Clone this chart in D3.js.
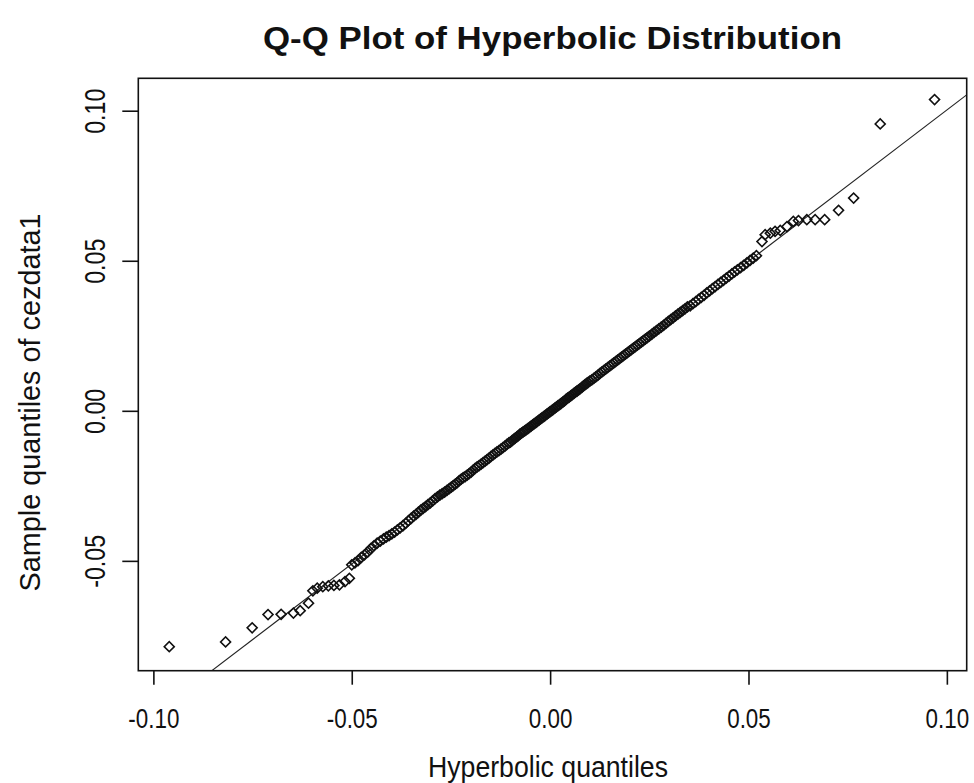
<!DOCTYPE html>
<html>
<head>
<meta charset="utf-8">
<script src="https://cdnjs.cloudflare.com/ajax/libs/d3/7.8.5/d3.min.js"></script>
<style>
  body { margin: 0; background: #fff; }
  svg { display: block; }
  text { fill: #111; }
</style>
</head>
<body>
<div id="chart"></div>
<script>
// Theoretical (hyperbolic) quantiles
const hypQuantiles = [
  -0.0960, -0.0818, -0.0751, -0.0711, -0.0678, -0.0647, -0.0630, -0.0609,
  -0.0598, -0.0587, -0.0573, -0.0559, -0.0545, -0.0531, -0.0517, -0.0506,
  -0.0500, -0.0492, -0.0484, -0.0476, -0.0468, -0.0460, -0.0452, -0.0444,
  -0.0436, -0.0428, -0.0420, -0.0413, -0.0406, -0.0399, -0.0392, -0.0385,
  -0.0378, -0.0371, -0.0364, -0.0357, -0.0350,
  -0.0344, -0.0338, -0.0332, -0.0326, -0.0320, -0.0314, -0.0308, -0.0302,
  -0.0296, -0.0290, -0.0284, -0.0278, -0.0272, -0.0266, -0.0260, -0.0254,
  -0.0249, -0.0244, -0.0239, -0.0234, -0.0229, -0.0224, -0.0219, -0.0214,
  -0.0209, -0.0204, -0.0199, -0.0194, -0.0189, -0.0184, -0.0179, -0.0174,
  -0.0169, -0.0164, -0.0159, -0.0154, -0.0149, -0.0144, -0.0139, -0.0134,
  -0.0129, -0.0124, -0.0119, -0.0114, -0.0109, -0.0104,
  -0.0100, -0.0096, -0.0092, -0.0088, -0.0084, -0.0080, -0.0076, -0.0072,
  -0.0068, -0.0064, -0.0060, -0.0056, -0.0052, -0.0048, -0.0044, -0.0040,
  -0.0036, -0.0032, -0.0028, -0.0024, -0.0020, -0.0016, -0.0012, -0.0008,
  -0.0004, 0.0000, 0.0004, 0.0008, 0.0012, 0.0016, 0.0020, 0.0024,
  0.0028, 0.0032, 0.0036, 0.0040, 0.0044, 0.0048, 0.0052, 0.0056,
  0.0060, 0.0064, 0.0068, 0.0072, 0.0076, 0.0080, 0.0084, 0.0088,
  0.0092, 0.0096, 0.0100,
  0.0105, 0.0110, 0.0115, 0.0120, 0.0125, 0.0130, 0.0135, 0.0140,
  0.0145, 0.0150, 0.0155, 0.0160, 0.0165, 0.0170, 0.0175, 0.0180,
  0.0185, 0.0190, 0.0195, 0.0200, 0.0205, 0.0210, 0.0215, 0.0220,
  0.0225, 0.0230, 0.0235, 0.0240, 0.0245, 0.0250,
  0.0256, 0.0262, 0.0268, 0.0274, 0.0280, 0.0286, 0.0292, 0.0298,
  0.0304, 0.0310, 0.0316, 0.0322, 0.0328, 0.0334, 0.0340, 0.0346,
  0.0353, 0.0360, 0.0367, 0.0374, 0.0381, 0.0388, 0.0395, 0.0402,
  0.0409, 0.0416, 0.0423, 0.0430, 0.0437, 0.0444, 0.0451, 0.0458,
  0.0465, 0.0472, 0.0480, 0.0488, 0.0496, 0.0504, 0.0512, 0.0520,
  0.0534, 0.0542, 0.0555, 0.0567, 0.0580, 0.0597, 0.0613, 0.0626,
  0.0647, 0.0668, 0.0692, 0.0727, 0.0765, 0.0832, 0.0969
];

// Sample quantiles of cezdata1, same order
const sampleQuantiles = [
  -0.0786, -0.0770, -0.0723, -0.0679, -0.0678, -0.0674, -0.0666, -0.0641,
  -0.0600, -0.0591, -0.0586, -0.0583, -0.0582, -0.0580, -0.0569, -0.0558,
  -0.0513, -0.0507, -0.0499, -0.0488, -0.0480, -0.0471, -0.0459, -0.0450,
  -0.0441, -0.0434, -0.0427, -0.0421, -0.0416, -0.0410, -0.0404, -0.0397,
  -0.0390, -0.0383, -0.0375, -0.0366, -0.0358,
  -0.0351, -0.0345, -0.0338, -0.0331, -0.0325, -0.0319, -0.0313, -0.0307,
  -0.0300, -0.0293, -0.0287, -0.0281, -0.0276, -0.0271, -0.0265, -0.0259,
  -0.0254, -0.0249, -0.0244, -0.0239, -0.0233, -0.0228, -0.0223, -0.0219,
  -0.0214, -0.0209, -0.0204, -0.0198, -0.0192, -0.0187, -0.0183, -0.0178,
  -0.0173, -0.0168, -0.0163, -0.0158, -0.0152, -0.0147, -0.0142, -0.0137,
  -0.0133, -0.0128, -0.0123, -0.0118, -0.0112, -0.0107,
  -0.0104, -0.0099, -0.0095, -0.0091, -0.0087, -0.0083, -0.0078, -0.0074,
  -0.0070, -0.0067, -0.0063, -0.0059, -0.0055, -0.0051, -0.0047, -0.0043,
  -0.0039, -0.0035, -0.0031, -0.0027, -0.0023, -0.0019, -0.0015, -0.0011,
  -0.0007, -0.0003, 0.0001, 0.0005, 0.0009, 0.0013, 0.0017, 0.0021,
  0.0025, 0.0029, 0.0033, 0.0038, 0.0042, 0.0046, 0.0050, 0.0054,
  0.0058, 0.0062, 0.0066, 0.0070, 0.0074, 0.0078, 0.0083, 0.0087,
  0.0091, 0.0095, 0.0099,
  0.0103, 0.0108, 0.0113, 0.0118, 0.0124, 0.0129, 0.0134, 0.0139,
  0.0144, 0.0149, 0.0154, 0.0159, 0.0164, 0.0169, 0.0174, 0.0179,
  0.0184, 0.0189, 0.0194, 0.0199, 0.0204, 0.0209, 0.0214, 0.0219,
  0.0224, 0.0229, 0.0234, 0.0239, 0.0244, 0.0249,
  0.0255, 0.0261, 0.0267, 0.0273, 0.0279, 0.0285, 0.0291, 0.0298,
  0.0304, 0.0310, 0.0316, 0.0322, 0.0328, 0.0334, 0.0340, 0.0346,
  0.0350, 0.0357, 0.0364, 0.0371, 0.0378, 0.0385, 0.0393, 0.0400,
  0.0407, 0.0414, 0.0421, 0.0428, 0.0435, 0.0442, 0.0449, 0.0456,
  0.0463, 0.0470, 0.0477, 0.0485, 0.0493, 0.0501, 0.0509, 0.0517,
  0.0564, 0.0587, 0.0592, 0.0598, 0.0601, 0.0614, 0.0631, 0.0634,
  0.0637, 0.0637, 0.0637, 0.0668, 0.0709, 0.0956, 0.1037
];

// reference line (qqline)
const lineIntercept = -0.0006;
const lineSlope = 1.0085;

const xTicks = [-0.10, -0.05, 0.00, 0.05, 0.10];
const xTickLabels = ['-0.10', '-0.05', '0.00', '0.05', '0.10'];
const yTicks = [-0.05, 0.00, 0.05, 0.10];
const yTickLabels = ['-0.05', '0.00', '0.05', '0.10'];

const titleText = 'Q-Q Plot of Hyperbolic Distribution';
const xTitle = 'Hyperbolic quantiles';
const yTitle = 'Sample quantiles of cezdata1';

// Dimensions
const width = 974;
const height = 783;
const plot = { left: 138.3, right: 966.7, top: 78.3, bottom: 670.7 };
const labelFont = "'Liberation Sans', Arial, sans-serif";
const narrow = 0.8; // the original labels use a condensed face

const svg = d3.select('#chart')
    .append('svg')
    .attr('width', width)
    .attr('height', height);

const x = d3.scaleLinear().domain([-0.1038, 0.1050]).range([plot.left, plot.right]);
const y = d3.scaleLinear().domain([-0.0866, 0.1108]).range([plot.bottom, plot.top]);

svg.append('defs').append('clipPath').attr('id', 'clip')
    .append('rect')
    .attr('x', plot.left).attr('y', plot.top)
    .attr('width', plot.right - plot.left)
    .attr('height', plot.bottom - plot.top);

// squeeze a text element to a condensed look
function condense(sel, len) {
    sel.each(function() {
        const w = len || this.getComputedTextLength() * narrow;
        d3.select(this).attr('textLength', w).attr('lengthAdjust', 'spacingAndGlyphs');
    });
}

// Title
svg.append('text')
    .attr('x', (plot.left + plot.right) / 2)
    .attr('y', 49)
    .attr('text-anchor', 'middle')
    .attr('font-family', "'Liberation Sans', Arial, sans-serif")
    .attr('font-weight', 'bold')
    .attr('font-size', 32)
    .attr('textLength', 579)
    .attr('lengthAdjust', 'spacingAndGlyphs')
    .text(titleText);

// X axis (R style: outward ticks, labels below)
const xAxis = d3.axisBottom(x)
    .tickValues(xTicks)
    .tickSize(14)
    .tickPadding(23)
    .tickFormat((d, i) => xTickLabels[i]);

svg.append('g')
    .attr('transform', `translate(0,${plot.bottom})`)
    .call(xAxis)
    .call(g => g.select('.domain').remove())
    .call(g => g.selectAll('.tick line').attr('stroke', '#111').attr('stroke-width', 1.6))
    .call(g => g.selectAll('.tick text')
        .attr('font-family', labelFont)
        .attr('font-size', 28)
        .attr('fill', '#111')
        .call(condense));

// Y axis, labels rotated parallel to the axis
const yAxis = d3.axisLeft(y)
    .tickValues(yTicks)
    .tickSize(16)
    .tickFormat((d, i) => yTickLabels[i]);

svg.append('g')
    .attr('transform', `translate(${plot.left},0)`)
    .call(yAxis)
    .call(g => g.select('.domain').remove())
    .call(g => g.selectAll('.tick line').attr('stroke', '#111').attr('stroke-width', 1.6))
    .call(g => g.selectAll('.tick text')
        .attr('x', null).attr('dy', null)
        .attr('transform', `translate(${105 - plot.left},0) rotate(-90)`)
        .attr('text-anchor', 'middle')
        .attr('font-family', labelFont)
        .attr('font-size', 29)
        .attr('fill', '#111')
        .call(condense));

// Axis titles
svg.append('text')
    .attr('x', 548)
    .attr('y', 777)
    .attr('text-anchor', 'middle')
    .attr('font-family', labelFont)
    .attr('font-size', 30)
    .text(xTitle)
    .call(condense, 240);

svg.append('text')
    .attr('transform', `translate(40,${(plot.top + plot.bottom) / 2 + 28}) rotate(-90)`)
    .attr('text-anchor', 'middle')
    .attr('font-family', labelFont)
    .attr('font-size', 30)
    .text(yTitle)
    .call(condense, 378);

// Reference line
const [x0, x1] = x.domain();
svg.append('line')
    .attr('clip-path', 'url(#clip)')
    .attr('x1', x(x0)).attr('y1', y(lineIntercept + lineSlope * x0))
    .attr('x2', x(x1)).attr('y2', y(lineIntercept + lineSlope * x1))
    .attr('stroke', '#222')
    .attr('stroke-width', 1.1);

// Points
const points = hypQuantiles.map((q, i) => ({ q: q, s: sampleQuantiles[i] }));
const symbol = d3.symbol().type(d3.symbolSquare).size(50);

svg.append('g')
    .attr('clip-path', 'url(#clip)')
    .selectAll('path')
    .data(points)
    .enter().append('path')
    .attr('d', symbol)
    .attr('transform', d => `translate(${x(d.q)},${y(d.s)}) rotate(45)`)
    .attr('fill', 'none')
    .attr('stroke', '#111')
    .attr('stroke-width', 1.6);

// Box around the plot region
svg.append('rect')
    .attr('x', plot.left).attr('y', plot.top)
    .attr('width', plot.right - plot.left)
    .attr('height', plot.bottom - plot.top)
    .attr('fill', 'none')
    .attr('stroke', '#111')
    .attr('stroke-width', 1.6);
</script>
</body>
</html>
